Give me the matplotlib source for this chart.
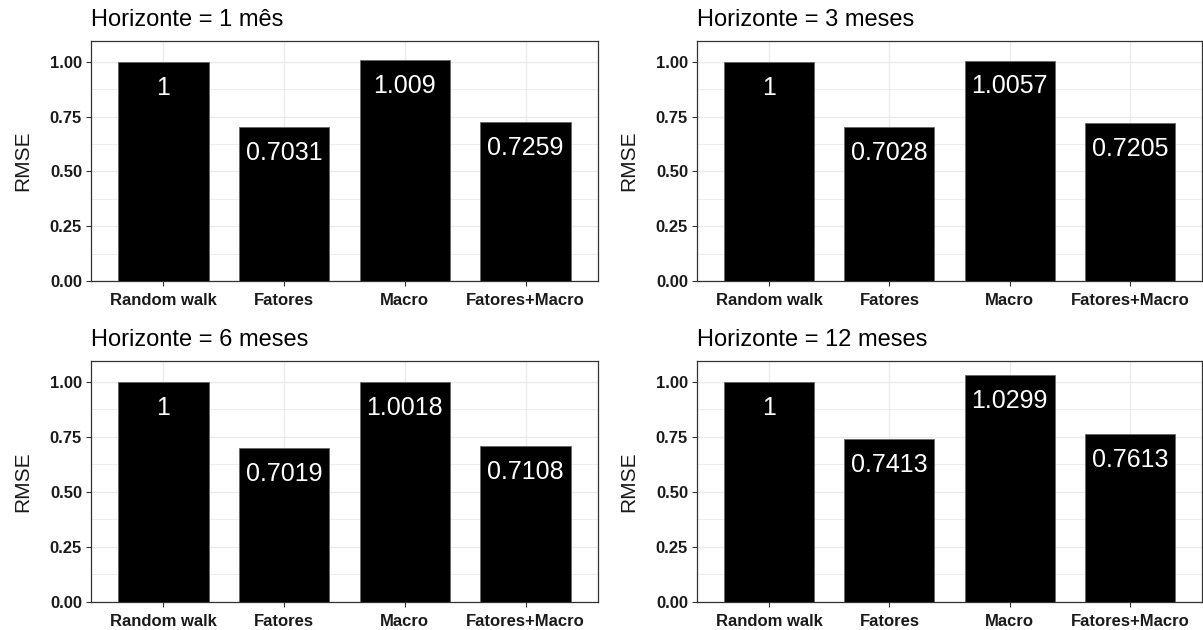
import matplotlib.pyplot as plt
from matplotlib.ticker import MultipleLocator

plt.rcParams['font.family'] = ['Liberation Sans', 'DejaVu Sans']

modelos = ['Random walk', 'Fatores', 'Macro', 'Fatores+Macro']
horizontes = ['Horizonte = 1 mês', 'Horizonte = 3 meses',
              'Horizonte = 6 meses', 'Horizonte = 12 meses']
rmse_1 = [1, 0.7031, 1.009, 0.7259]
rmse_3 = [1, 0.7028, 1.0057, 0.7205]
rmse_6 = [1, 0.7019, 1.0018, 0.7108]
rmse_12 = [1, 0.7413, 1.0299, 0.7613]
valores = [rmse_1, rmse_3, rmse_6, rmse_12]
rotulos = [['1', '0.7031', '1.009', '0.7259'],
           ['1', '0.7028', '1.0057', '0.7205'],
           ['1', '0.7019', '1.0018', '0.7108'],
           ['1', '0.7413', '1.0299', '0.7613']]

W, H = 1203, 630
fig = plt.figure(figsize=(W / 100, H / 100), dpi=100)

# panel boxes in pixels: left, top, right, bottom
boxes = [(91, 41, 598, 281), (697, 41, 1202, 281),
         (91, 361, 598, 602), (697, 361, 1202, 602)]

for i, (l, t, r, b) in enumerate(boxes):
    ax = fig.add_axes([l / W, 1 - b / H, (r - l) / W, (b - t) / H])
    x = list(range(1, len(modelos) + 1))
    ax.bar(x, valores[i], width=0.75, color='black', edgecolor='#666666',
           linewidth=0.6, zorder=3)
    for xi, v, s in zip(x, valores[i], rotulos[i]):
        ax.text(xi, v - 0.15, s, ha='center', va='baseline', color='white',
                fontsize=18, zorder=4)
    ax.set_xlim(0.4, 4.6)
    ax.set_ylim(0, 1.095)
    ax.set_xticks(x)
    ax.set_xticklabels(modelos, fontweight='bold', fontsize=12, color='#1a1a1a')
    ax.yaxis.set_minor_locator(MultipleLocator(0.125))
    ax.set_yticks([0, 0.25, 0.5, 0.75, 1.0])
    ax.set_yticklabels(['0.00', '0.25', '0.50', '0.75', '1.00'],
                       fontweight='bold', fontsize=12, color='#1a1a1a')
    ax.tick_params(axis='y', which='major', length=3.4, width=0.8,
                   color='#333333', pad=3)
    ax.tick_params(axis='x', which='major', length=3.4, width=0.8,
                   color='#333333', pad=5)
    ax.tick_params(axis='y', which='minor', length=0)
    ax.grid(True, which='major', color='#ebebeb', linewidth=1.0, zorder=0)
    ax.grid(True, which='minor', axis='y', color='#ebebeb', linewidth=0.6, zorder=0)
    ax.set_axisbelow(True)
    for sp in ax.spines.values():
        sp.set_color('#333333')
        sp.set_linewidth(0.9)
    ax.set_ylabel('RMSE', fontsize=15, color='#1a1a1a', labelpad=13)
    ax.set_title(horizontes[i], loc='left', fontsize=17, pad=11)

fig.savefig('out.png', dpi=100)
